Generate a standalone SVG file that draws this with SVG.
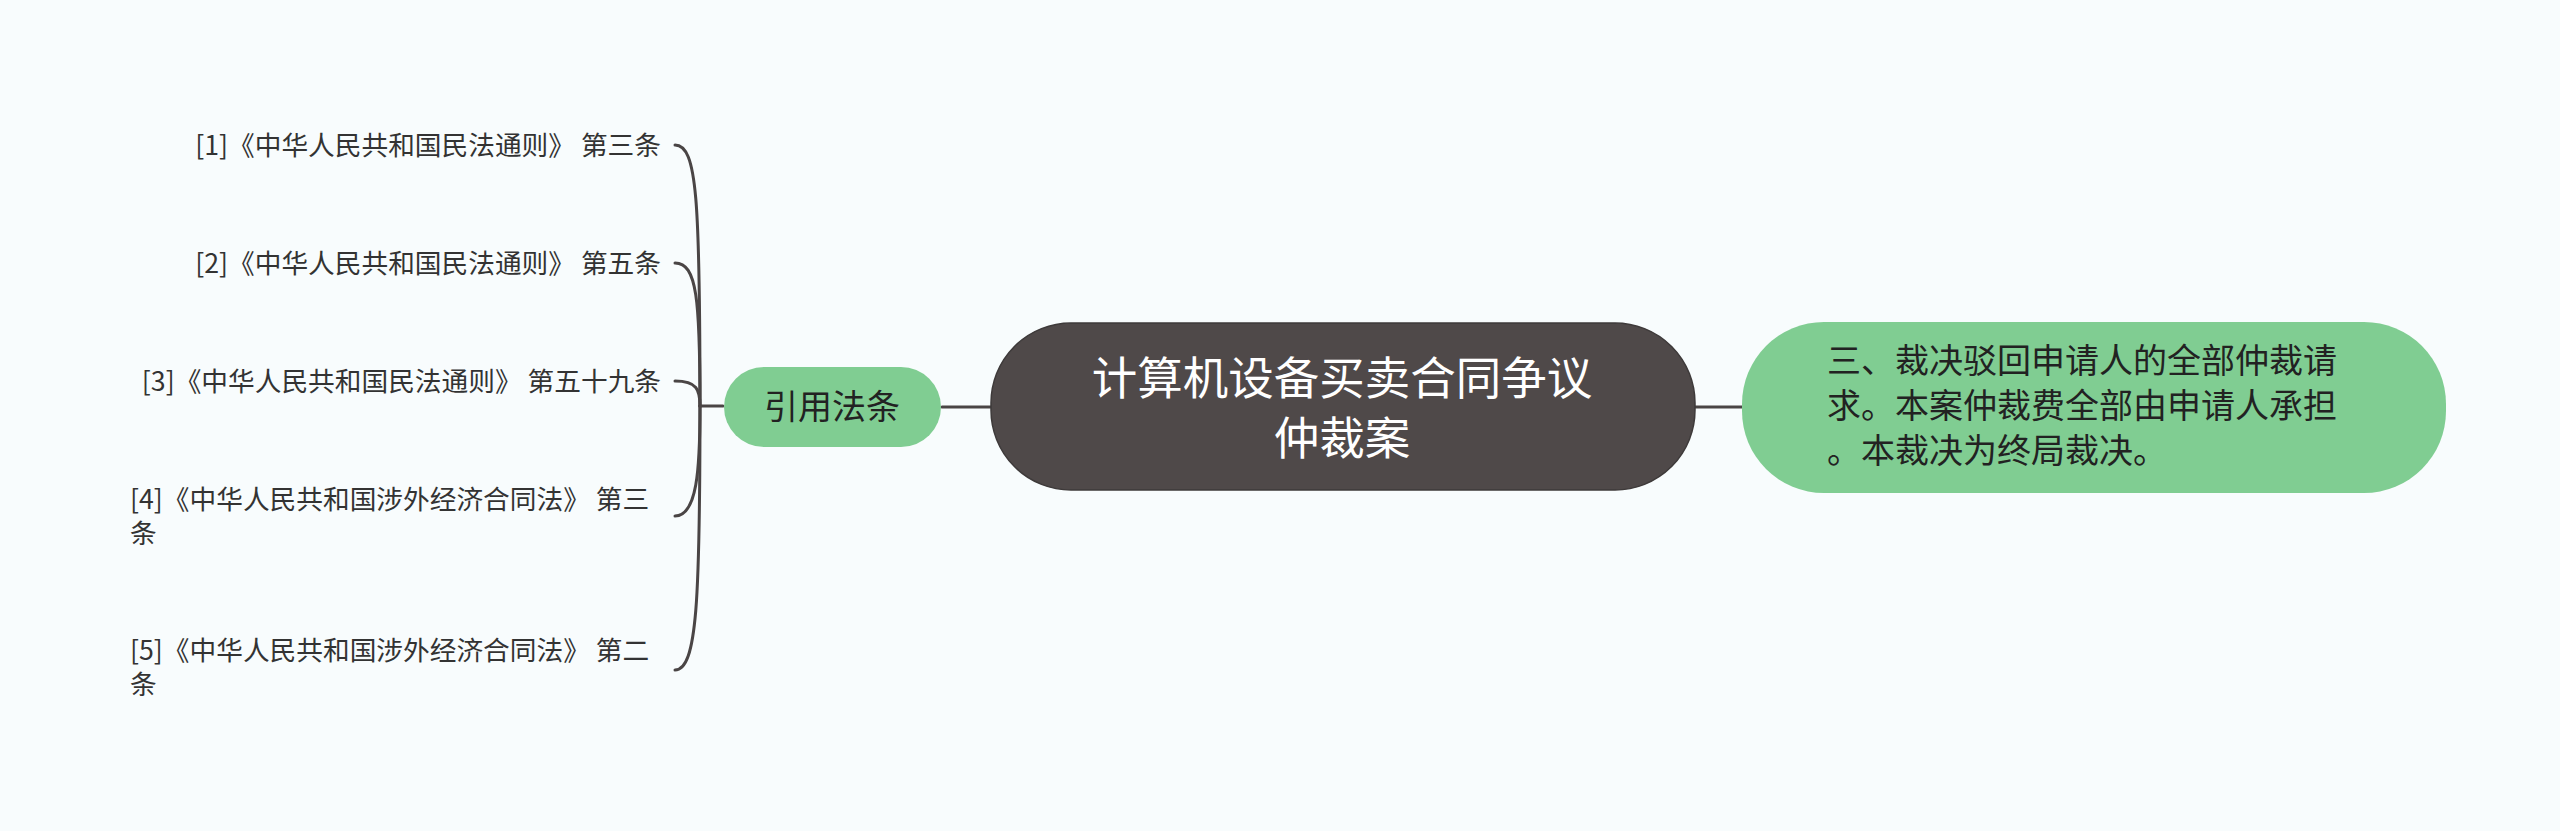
<svg xmlns="http://www.w3.org/2000/svg" width="2560" height="831" viewBox="0 0 2560 831">
<style>
.conn{fill:none;stroke:#4a4545;stroke-width:3;stroke-linecap:round}
.leaf{font-family:"Noto Sans CJK SC","Noto Sans",sans-serif;font-size:26.7px;fill:#333333}
.green{fill:#80cd92}
.gtext{font-family:"Noto Sans CJK SC","Noto Sans",sans-serif;font-size:34px;fill:#222222}
.ctext{font-family:"Noto Sans CJK SC","Noto Sans",sans-serif;font-size:45.5px;fill:#ffffff}
</style>
<rect x="0" y="0" width="2560" height="831" fill="#f8fcfd"/>
<g id="connectors">
<path class="conn" d="M942,407 L991,407"/>
<path class="conn" d="M1695,407 L1742,407"/>
<path class="conn" d="M723,406 L700,406"/>
<path class="conn" d="M700,406 C700,200 697,145 675,145"/>
<path class="conn" d="M700,406 C700,300 697,263 675,263"/>
<path class="conn" d="M700,406 C700,390 697,381 675,381"/>
<path class="conn" d="M700,406 C700,470 697,516 675,516"/>
<path class="conn" d="M700,406 C700,600 697,670 675,670"/>
</g>
<g id="center">
<rect x="991" y="323" width="704" height="167" rx="80" ry="80" fill="#4f4949" stroke="#3e3a3a" stroke-width="1.5"/>
<text class="ctext" x="1342" y="395" text-anchor="middle">计算机设备买卖合同争议</text>
<text class="ctext" x="1342" y="455" text-anchor="middle">仲裁案</text>
</g>
<g id="cite">
<rect class="green" x="724" y="367" width="217" height="80" rx="40" ry="40"/>
<text class="gtext" x="832" y="419" text-anchor="middle">引用法条</text>
</g>
<g id="ruling">
<rect class="green" x="1742" y="322" width="704" height="171" rx="82" ry="82"/>
<text class="gtext" x="1827" y="373">三、裁决驳回申请人的全部仲裁请</text>
<text class="gtext" x="1827" y="418">求。本案仲裁费全部由申请人承担</text>
<text class="gtext" x="1827" y="463">。本裁决为终局裁决。</text>
</g>
<g id="law1"><text class="leaf" x="661" y="155" text-anchor="end">[1]《中华人民共和国民法通则》 第三条</text></g>
<g id="law2"><text class="leaf" x="661" y="273" text-anchor="end">[2]《中华人民共和国民法通则》 第五条</text></g>
<g id="law3"><text class="leaf" x="661" y="391" text-anchor="end">[3]《中华人民共和国民法通则》 第五十九条</text></g>
<g id="law4"><text class="leaf" x="130" y="509">[4]《中华人民共和国涉外经济合同法》 第三</text><text class="leaf" x="130" y="543">条</text></g>
<g id="law5"><text class="leaf" x="130" y="660">[5]《中华人民共和国涉外经济合同法》 第二</text><text class="leaf" x="130" y="694">条</text></g>
</svg>
